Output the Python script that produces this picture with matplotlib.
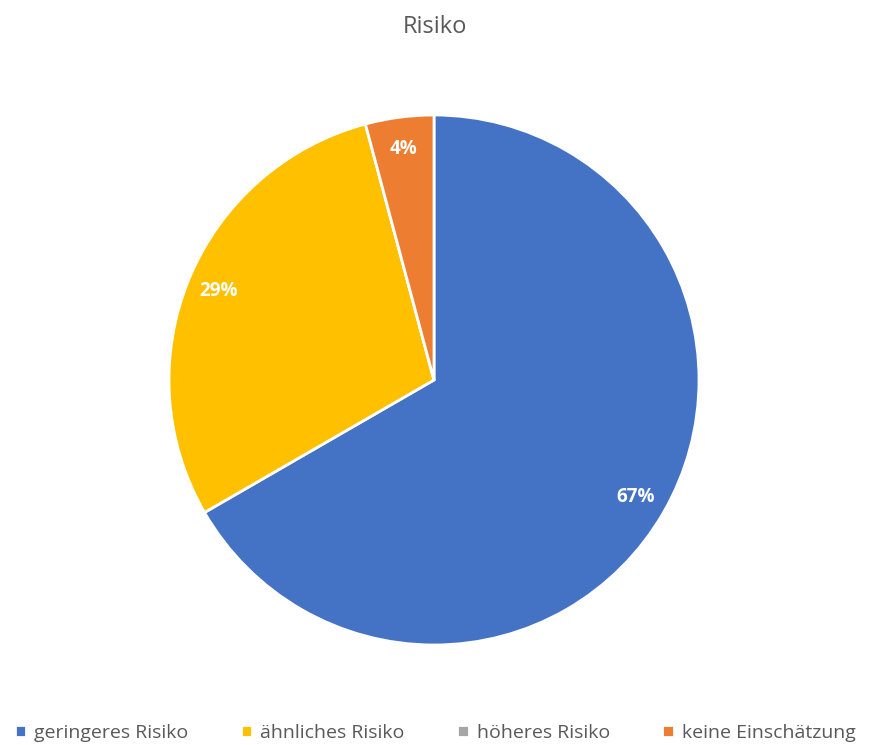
import matplotlib.pyplot as plt

plt.rcParams['font.family'] = ['Open Sans', 'DejaVu Sans']

categories = ['geringeres Risiko', 'ähnliches Risiko', 'höheres Risiko', 'keine Einschätzung']
counts = [16, 7, 0, 1]
colors = ['#4472C4', '#FFC000', '#A5A5A5', '#ED7D31']

fig = plt.figure(figsize=(8.7, 7.45), dpi=100)

# pie axes: centre ~ (434, 380) px, radius ~ 265 px
cx, cy, r = 434, 380, 265
ax = fig.add_axes([(cx - r) / 870, (745 - cy - r) / 745, 2 * r / 870, 2 * r / 745])


def pct_label(p):
    return '' if p == 0 else '%d%%' % round(p)


wedges, texts, autotexts = ax.pie(
    counts, colors=colors, startangle=90, counterclock=False,
    autopct=pct_label, pctdistance=0.88, radius=1,
    wedgeprops=dict(edgecolor='white', linewidth=2),
    textprops=dict(color='white', fontsize=13.5, fontweight='bold'))
ax.set_xlim(-1, 1)
ax.set_ylim(-1, 1)
ax.set_aspect('equal')

fig.text(0.5, 1 - 27 / 745, 'Risiko', ha='center', va='center',
         fontsize=17, color='#595959')

fig.legend(wedges, categories, loc='center', bbox_to_anchor=(0.5, 1 - 733 / 745),
           ncol=4, frameon=False, fontsize=14, handlelength=0.6, handleheight=0.6,
           handletextpad=0.4, columnspacing=2.7, labelcolor='#595959')

fig.savefig('out.png', dpi=100)
